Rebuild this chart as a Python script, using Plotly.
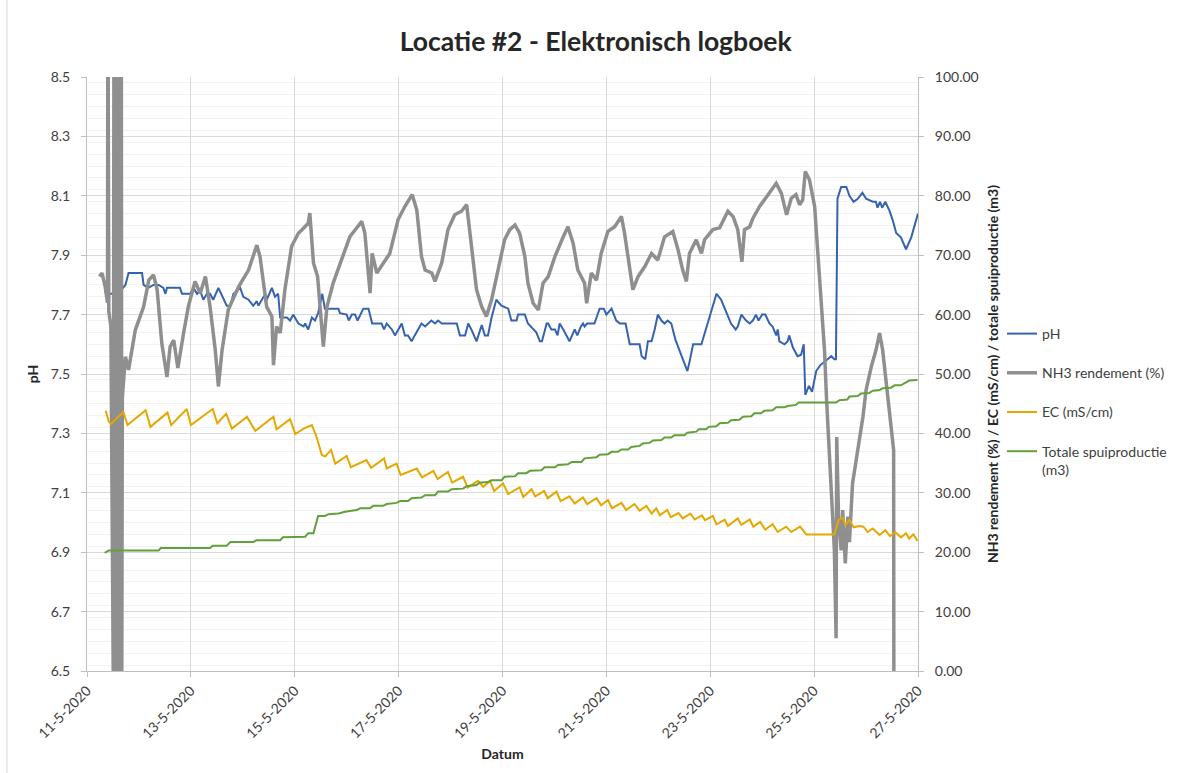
import pandas as pd
import plotly.graph_objects as go

# ---------------- data (time = fractional day of May 2020) ----------------
ph_day = [11.34, 11.38, 11.48, 11.64, 11.74, 11.80, 12.06, 12.09, 12.18, 12.28, 12.38, 12.47, 12.51, 12.54,
          12.79, 12.83, 12.99, 13.05, 13.12, 13.18, 13.24, 13.31, 13.37, 13.43, 13.53, 13.63, 13.69, 13.76,
          13.82, 13.95, 14.01, 14.11, 14.20, 14.27, 14.30, 14.40, 14.46, 14.56, 14.62, 14.68, 14.72, 14.85,
          14.91, 14.97, 15.07, 15.17, 15.20, 15.26, 15.33, 15.39, 15.45, 15.53, 15.58, 15.84, 15.87, 16.00,
          16.04, 16.10, 16.16, 16.21, 16.26, 16.32, 16.42, 16.49, 16.67, 16.72, 16.77, 16.87, 16.93, 16.99,
          17.06, 17.09, 17.12, 17.18, 17.25, 17.31, 17.38, 17.44, 17.51, 17.63, 17.70, 17.76, 17.83, 18.12,
          18.18, 18.28, 18.34, 18.40, 18.50, 18.60, 18.66, 18.72, 18.79, 18.88, 18.98, 19.11, 19.17, 19.27,
          19.30, 19.43, 19.49, 19.59, 19.65, 19.72, 19.76, 19.85, 19.88, 19.94, 20.01, 20.06, 20.10, 20.17,
          20.23, 20.29, 20.39, 20.44, 20.51, 20.55, 20.58, 20.63, 20.77, 20.87, 20.95, 21.00, 21.10, 21.19,
          21.26, 21.37, 21.45, 21.64, 21.68, 21.75, 21.80, 21.87, 21.93, 21.99, 22.06, 22.12, 22.18, 22.25,
          22.33, 22.41, 22.49, 22.56, 22.60, 22.67, 22.83, 22.88, 22.94, 23.03, 23.12, 23.21, 23.31, 23.40,
          23.49, 23.53, 23.60, 23.69, 23.76, 23.82, 23.88, 23.93, 24.00, 24.06, 24.14, 24.20, 24.27, 24.30,
          24.33, 24.43, 24.49, 24.52, 24.59, 24.68, 24.75, 24.80, 24.83, 24.90, 24.96, 25.04, 25.12, 25.20,
          25.26, 25.33, 25.39, 25.42, 25.45, 25.52, 25.62, 25.68, 25.76, 25.84, 25.93, 26.00, 26.13, 26.19,
          26.22, 26.27, 26.31, 26.37, 26.45, 26.51, 26.58, 26.67, 26.77, 26.87, 26.96, 27.00]
ph_val = [7.78, 7.77, 7.77, 7.78, 7.80, 7.84, 7.84, 7.80, 7.79, 7.80, 7.80, 7.79, 7.77, 7.79,
          7.79, 7.77, 7.77, 7.79, 7.77, 7.78, 7.75, 7.77, 7.77, 7.75, 7.79, 7.75, 7.73, 7.73,
          7.77, 7.79, 7.76, 7.75, 7.73, 7.745, 7.73, 7.76, 7.75, 7.79, 7.76, 7.77, 7.69, 7.69,
          7.68, 7.70, 7.67, 7.66, 7.67, 7.65, 7.69, 7.68, 7.705, 7.77, 7.72, 7.72, 7.705, 7.70,
          7.68, 7.70, 7.70, 7.68, 7.70, 7.72, 7.72, 7.67, 7.67, 7.65, 7.67, 7.65, 7.63, 7.65,
          7.67, 7.65, 7.63, 7.63, 7.61, 7.63, 7.65, 7.67, 7.66, 7.68, 7.67, 7.68, 7.67, 7.67,
          7.63, 7.63, 7.67, 7.65, 7.61, 7.665, 7.63, 7.63, 7.69, 7.75, 7.73, 7.72, 7.68, 7.68,
          7.70, 7.70, 7.67, 7.65, 7.64, 7.61, 7.61, 7.67, 7.67, 7.65, 7.65, 7.63, 7.67, 7.65,
          7.63, 7.61, 7.65, 7.63, 7.66, 7.67, 7.66, 7.67, 7.67, 7.72, 7.72, 7.70, 7.72, 7.68,
          7.67, 7.67, 7.60, 7.60, 7.56, 7.55, 7.61, 7.61, 7.65, 7.70, 7.68, 7.67, 7.68, 7.67,
          7.615, 7.58, 7.54, 7.51, 7.54, 7.60, 7.60, 7.63, 7.67, 7.72, 7.77, 7.75, 7.705, 7.67,
          7.65, 7.66, 7.70, 7.68, 7.67, 7.68, 7.70, 7.68, 7.70, 7.70, 7.67, 7.66, 7.63, 7.65,
          7.61, 7.60, 7.61, 7.63, 7.59, 7.56, 7.565, 7.60, 7.43, 7.46, 7.44, 7.51, 7.53, 7.54,
          7.55, 7.56, 7.55, 7.55, 8.09, 8.13, 8.13, 8.10, 8.08, 8.09, 8.11, 8.09, 8.08, 8.08,
          8.06, 8.08, 8.06, 8.08, 8.05, 8.02, 7.975, 7.96, 7.92, 7.96, 8.01, 8.04]

nh3_day = [11.24, 11.29, 11.35, 11.395, 11.402, 11.408, 11.42, 11.46, 11.505,
           11.52, 11.53, 11.54, 11.55, 11.56, 11.57, 11.58, 11.59, 11.60, 11.61, 11.62, 11.63, 11.64,
           11.65, 11.66, 11.67, 11.68, 11.74, 11.80, 11.93, 12.09, 12.19, 12.28, 12.35, 12.44, 12.54,
           12.60, 12.67, 12.75, 12.86, 12.95, 13.08, 13.18, 13.28, 13.37, 13.47, 13.53, 13.60, 13.72,
           13.92, 14.11, 14.27, 14.33, 14.46, 14.56, 14.59, 14.65, 14.72, 14.81, 14.94, 15.07, 15.14,
           15.26, 15.29, 15.36, 15.44, 15.49, 15.55, 15.62, 15.74, 15.90, 16.06, 16.29, 16.35, 16.45,
           16.49, 16.58, 16.70, 16.83, 16.99, 17.12, 17.26, 17.35, 17.44, 17.51, 17.64, 17.70, 17.83,
           17.95, 18.08, 18.21, 18.31, 18.40, 18.50, 18.60, 18.69, 18.79, 18.92, 19.04, 19.14, 19.24,
           19.33, 19.43, 19.49, 19.59, 19.69, 19.78, 19.88, 20.01, 20.17, 20.26, 20.36, 20.45, 20.58,
           20.62, 20.71, 20.81, 20.90, 21.03, 21.16, 21.29, 21.35, 21.45, 21.51, 21.61, 21.74, 21.87,
           21.99, 22.12, 22.28, 22.38, 22.47, 22.54, 22.60, 22.73, 22.83, 22.89, 23.05, 23.18, 23.34,
           23.44, 23.53, 23.61, 23.66, 23.76, 23.82, 23.95, 24.11, 24.27, 24.37, 24.47, 24.56, 24.65,
           24.72, 24.78, 24.83, 24.91, 25.01, 25.07, 25.14, 25.20, 25.24, 25.29, 25.35, 25.39, 25.423,
           25.435, 25.47, 25.52, 25.55, 25.60, 25.65, 25.68, 25.74, 25.84, 25.94, 26.00, 26.10, 26.19,
           26.26, 26.32, 26.39, 26.48, 26.531, 26.535]
nh3_val = [66.4, 67.0, 64.7, 62.0, 120.0, 62.0, 60.5, 58.0, 0.0,
           120.0, 0.0, 120.0, 0.0, 120.0, 0.0, 120.0, 0.0, 120.0, 0.0, 120.0, 0.0, 120.0,
           0.0, 120.0, 0.0, 46.0, 52.9, 50.7, 57.4, 61.3, 65.8, 66.7, 64.2, 55.2, 49.5,
           54.6, 55.7, 51.0, 56.9, 61.3, 65.6, 63.6, 66.4, 61.3, 54.0, 47.9, 54.0, 60.8,
           64.7, 67.5, 71.7, 69.8, 61.3, 59.7, 51.5, 58.0, 56.9, 64.2, 71.5, 73.7, 74.3,
           75.4, 77.1, 68.7, 66.4, 61.3, 54.6, 61.3, 65.3, 69.2, 73.1, 75.7, 73.7, 63.6,
           70.3, 67.0, 68.7, 70.3, 76.0, 78.2, 80.2, 77.6, 69.8, 67.5, 67.0, 65.6, 68.7,
           74.3, 76.8, 77.4, 78.5, 72.0, 64.2, 61.3, 59.7, 62.5, 67.5, 72.6, 74.3, 75.1,
           73.7, 69.8, 65.3, 61.9, 60.8, 65.3, 66.4, 69.8, 73.1, 74.8, 72.0, 67.5, 65.3,
           61.9, 67.0, 65.8, 70.3, 74.0, 74.8, 76.5, 73.7, 68.1, 64.2, 66.4, 68.1, 70.3,
           69.2, 73.1, 74.0, 70.9, 67.5, 65.6, 70.3, 72.6, 70.3, 72.6, 74.3, 74.6, 77.4,
           76.5, 74.3, 68.9, 74.3, 74.8, 76.2, 78.2, 80.2, 82.1, 80.4, 76.8, 79.6, 80.2,
           78.5, 79.3, 84.1, 82.7, 78.2, 70.9, 62.5, 54.0, 45.6, 37.2, 28.8, 20.3, 5.5,
           39.4, 26.0, 20.3, 27.1, 18.1, 26.0, 21.7, 31.6, 37.2, 42.8, 47.3, 51.2, 54.0,
           56.9, 54.0, 48.4, 41.7, 37.2, 0.0]

ec_day = [11.36, 11.42, 11.46, 11.70, 11.78, 12.13, 12.22, 12.55, 12.62, 12.92, 13.00, 13.42, 13.51,
          13.68, 13.79, 14.08, 14.24, 14.59, 14.65, 14.91, 15.01, 15.17, 15.33, 15.42, 15.52, 15.58,
          15.70, 15.78, 16.00, 16.08, 16.38, 16.47, 16.72, 16.77, 16.96, 17.04, 17.35, 17.45, 17.67,
          17.75, 17.95, 18.03, 18.24, 18.33, 18.53, 18.63, 18.76, 18.84, 19.01, 19.11, 19.33, 19.40,
          19.56, 19.63, 19.80, 19.87, 20.04, 20.12, 20.29, 20.39, 20.55, 20.63, 20.81, 20.90, 21.03,
          21.11, 21.29, 21.38, 21.54, 21.64, 21.77, 21.87, 21.96, 22.03, 22.17, 22.24, 22.39, 22.47,
          22.62, 22.70, 22.84, 22.90, 23.05, 23.12, 23.28, 23.34, 23.53, 23.60, 23.76, 23.83, 23.96,
          24.06, 24.20, 24.30, 24.46, 24.56, 24.73, 24.85, 25.39, 25.47, 25.55, 25.60, 25.68, 25.76,
          25.87, 25.95, 26.03, 26.13, 26.26, 26.37, 26.46, 26.56, 26.67, 26.77, 26.83, 26.91, 26.99]
ec_val = [43.8, 42.0, 41.6, 43.6, 41.4, 43.9, 41.1, 43.5, 41.4, 44.1, 41.4, 44.1, 41.7,
          43.3, 40.8, 42.8, 40.4, 42.8, 40.7, 42.4, 39.9, 40.8, 41.4, 39.4, 36.4, 36.1,
          37.2, 34.9, 36.2, 34.3, 35.5, 34.2, 35.8, 34.1, 34.9, 33.0, 34.1, 32.6, 33.7,
          32.3, 33.5, 31.7, 32.7, 30.9, 32.0, 31.0, 32.0, 30.3, 31.6, 29.8, 30.9, 29.3,
          30.6, 29.4, 30.3, 29.1, 30.2, 28.6, 29.4, 28.2, 29.2, 28.1, 29.1, 27.9, 28.8,
          27.4, 28.3, 27.1, 28.1, 27.0, 27.8, 26.5, 27.4, 26.2, 27.1, 25.9, 26.6, 25.7,
          26.5, 25.5, 26.2, 25.4, 26.1, 24.7, 25.5, 24.4, 25.7, 24.6, 25.5, 24.3, 25.1,
          23.8, 24.7, 23.4, 24.3, 23.4, 24.3, 23.0, 23.0, 25.4, 25.8, 24.6, 25.4, 24.2,
          24.4, 24.3, 23.4, 24.0, 22.9, 23.7, 22.7, 23.4, 22.5, 23.2, 22.3, 23.0, 21.9]

spui_day = [11.34, 11.42, 12.38, 12.42, 13.37, 13.42, 13.69, 13.76, 14.20, 14.26, 14.72, 14.77, 15.20,
            15.26, 15.36, 15.45, 15.58, 15.65, 15.84, 15.97, 16.19, 16.26, 16.45, 16.51, 16.70, 16.77,
            16.96, 17.03, 17.18, 17.25, 17.44, 17.51, 17.70, 17.76, 17.95, 18.02, 18.24, 18.31, 18.50,
            18.56, 18.72, 18.79, 18.98, 19.04, 19.24, 19.30, 19.46, 19.53, 19.75, 19.81, 20.01, 20.07,
            20.26, 20.33, 20.52, 20.58, 20.81, 20.87, 21.03, 21.10, 21.22, 21.29, 21.42, 21.48, 21.64,
            21.70, 21.83, 21.90, 22.06, 22.12, 22.25, 22.31, 22.50, 22.56, 22.73, 22.78, 22.92, 22.97,
            23.12, 23.18, 23.34, 23.40, 23.56, 23.63, 23.79, 23.85, 23.98, 24.04, 24.20, 24.27, 24.43,
            24.49, 24.65, 24.70, 25.42, 25.49, 25.64, 25.68, 25.84, 25.90, 26.06, 26.13, 26.26, 26.32,
            26.48, 26.55, 26.67, 26.74, 26.83, 26.99]
spui_val = [19.9, 20.3, 20.3, 20.7, 20.7, 21.1, 21.1, 21.7, 21.7, 22.0, 22.0, 22.5, 22.6,
            23.2, 23.2, 26.1, 26.1, 26.4, 26.5, 26.8, 27.1, 27.4, 27.4, 27.8, 27.8, 28.1,
            28.3, 28.6, 28.6, 29.1, 29.2, 29.6, 29.6, 30.2, 30.2, 30.6, 30.7, 31.1, 31.3,
            31.7, 31.8, 32.1, 32.1, 32.7, 32.8, 33.3, 33.3, 33.7, 33.8, 34.3, 34.3, 34.7,
            34.8, 35.2, 35.2, 35.8, 36.0, 36.4, 36.5, 36.9, 36.9, 37.3, 37.3, 37.7, 37.9,
            38.3, 38.4, 38.8, 38.9, 39.3, 39.3, 39.7, 39.7, 40.1, 40.3, 40.7, 40.7, 41.1,
            41.2, 41.7, 41.8, 42.2, 42.3, 42.8, 42.9, 43.4, 43.4, 43.8, 43.9, 44.4, 44.4,
            44.6, 44.8, 45.2, 45.2, 45.6, 45.7, 46.2, 46.3, 46.7, 46.8, 47.2, 47.3, 47.6,
            47.7, 48.1, 48.1, 48.4, 48.9, 49.0]

series_names = ["pH", "NH3 rendement (%)", "EC (mS/cm)", "Totale spuiproductie<br>(m3)"]
series_colors = ["#3563B0", "#8F8F8F", "#E5A800", "#62A03C"]


def to_dates(days):
    base = pd.Timestamp("2020-05-01")
    return [base + pd.Timedelta(days=d - 1) for d in days]


fig = go.Figure()
fig.add_trace(go.Scatter(x=to_dates(ph_day), y=ph_val, name=series_names[0], mode="lines",
                         line=dict(color=series_colors[0], width=2), legendgroup="a"))
fig.add_trace(go.Scatter(x=to_dates(nh3_day), y=nh3_val, name=series_names[1], mode="lines",
                         line=dict(color=series_colors[1], width=3.5), yaxis="y2", legendgroup="b"))
fig.add_trace(go.Scatter(x=to_dates(ec_day), y=ec_val, name=series_names[2], mode="lines",
                         line=dict(color=series_colors[2], width=2), yaxis="y2", legendgroup="c"))
fig.add_trace(go.Scatter(x=to_dates(spui_day), y=spui_val, name=series_names[3], mode="lines",
                         line=dict(color=series_colors[3], width=2), yaxis="y2", legendgroup="d"))

axis_col = "#BFBFBF"
tick_font = dict(family="Lato", size=14, color="#404040")
title_font = dict(family="Lato", size=14, color="#262626")

# plot area: x 87..918 px, y 77..671 px
PL, PR, PT, PB = 87, 918, 77, 671
PW, PH_ = PR - PL, PB - PT

fig.update_layout(
    width=1182, height=773,
    margin=dict(l=PL, r=1182 - PR, t=PT, b=773 - PB, autoexpand=False),
    paper_bgcolor="white", plot_bgcolor="white",
    font=dict(family="Lato", size=14, color="#404040"),
    title=dict(text="<b>Locatie #2 - Elektronisch logboek</b>", x=0.504, xanchor="center",
               y=1 - 42 / 773, yanchor="middle", yref="container",
               font=dict(family="Lato", size=26.5, color="#262626")),
    showlegend=True,
    legend=dict(x=(1002 - PL) / PW, xanchor="left", y=(PB - 318) / PH_, yanchor="top",
                bgcolor="rgba(0,0,0,0)",
                font=dict(family="Lato", size=14, color="#404040"), tracegroupgap=18,
                valign="top", itemwidth=30),
    xaxis=dict(type="date", range=["2020-05-11", "2020-05-27"], tick0="2020-05-11",
               dtick=2 * 86400000, tickformat="%-d-%-m-%Y", tickangle=-45,
               showgrid=True, gridcolor="#D9D9D9", gridwidth=1, automargin=False,
               showline=True, linecolor=axis_col, linewidth=1,
               ticks="outside", ticklen=5, tickcolor=axis_col, tickfont=tick_font,
               title=dict(text="<b>Datum</b>", font=title_font, standoff=8), zeroline=False),
    yaxis=dict(range=[6.5, 8.5], tick0=6.5, dtick=0.2, tickformat=".1f", automargin=False,
               showgrid=True, gridcolor="#D9D9D9", gridwidth=1,
               minor=dict(dtick=0.04, showgrid=True, gridcolor="#F2F2F2", ticks=""),
               showline=True, linecolor=axis_col, linewidth=1,
               ticks="outside", ticklen=5, tickcolor=axis_col, tickfont=tick_font,
               ticklabelstandoff=8,
               title=dict(text="<b>pH</b>", font=title_font, standoff=8), zeroline=False),
    yaxis2=dict(range=[0, 100], tick0=0, dtick=10, tickformat=".2f", overlaying="y", side="right",
                showgrid=False, showline=True, linecolor=axis_col, linewidth=1, automargin=False,
                ticks="outside", ticklen=5, tickcolor=axis_col, tickfont=tick_font,
                ticklabelstandoff=8,
                title=dict(text="<b>NH3 rendement (%) / EC (mS/cm) / totale spuiproductie (m3)</b>",
                           font=title_font, standoff=10), zeroline=False),
    shapes=[dict(type="line", xref="paper", yref="paper",
                 x0=(7 - PL) / PW, x1=(7 - PL) / PW, y0=(PB - 0) / PH_, y1=(PB - 773) / PH_,
                 line=dict(color="#D9D9D9", width=1), layer="below")],
)

# remove the default 8px page margin so the figure sits at the window origin
fig.write_html("out.html", config={"displayModeBar": False},
               post_script="document.body.style.margin='0';")
